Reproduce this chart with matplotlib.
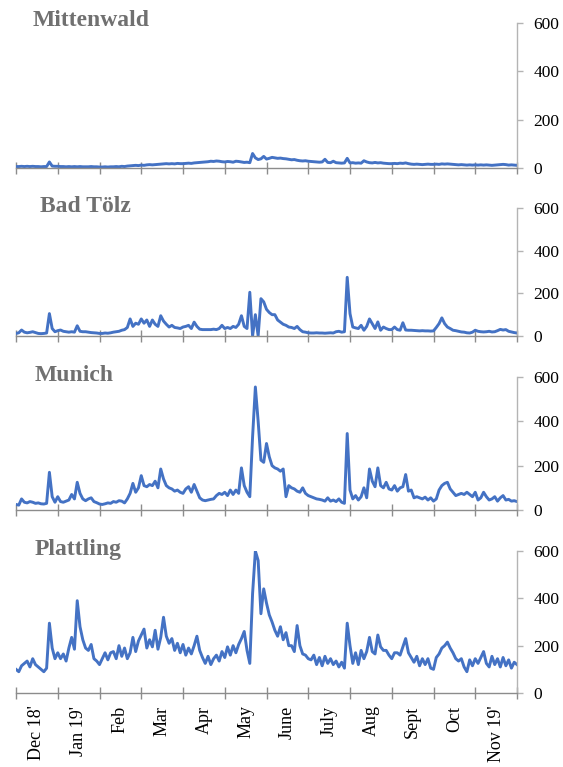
import numpy as np
import matplotlib
matplotlib.use("Agg")
import matplotlib.pyplot as plt

# months shown on the category axis (one tick interval per month)
months = ["Dec 18'", "Jan 19'", "Feb", "Mar", "Apr", "May", "June",
          "July", "Aug", "Sept", "Oct", "Nov 19'"]
stations = ["Mittenwald", "Bad Tölz", "Munich", "Plattling"]

# values read every ~2 days (15 samples per month), 181 samples
mittenwald = [
    6, 6, 7, 6, 7, 6, 7, 6, 6, 5, 6, 6, 25, 8, 7,
    7, 6, 6, 5, 6, 5, 6, 5, 6, 5, 5, 5, 6, 5, 5,
    4, 4, 5, 4, 5, 5, 6, 5, 7, 6, 8, 9, 10, 11, 10,
    12, 11, 13, 14, 13, 14, 15, 16, 17, 18, 17, 18, 17, 19, 18,
    18, 19, 20, 19, 21, 22, 23, 24, 25, 26, 28, 27, 29, 28, 26,
    25, 27, 26, 24, 28, 27, 25, 23, 24, 22, 60, 42, 35, 38, 48,
    37, 40, 44, 42, 40, 41, 39, 38, 36, 34, 35, 32, 30, 29, 30,
    28, 27, 26, 25, 24, 25, 36, 23, 22, 28, 22, 21, 20, 21, 40,
    21, 22, 20, 21, 20, 30, 25, 22, 21, 23, 21, 22, 20, 19, 18,
    18, 19, 18, 20, 19, 21, 18, 16, 15, 16, 15, 14, 15, 16, 15,
    15, 16, 15, 17, 16, 17, 16, 15, 14, 13, 14, 13, 12, 13, 12,
    13, 12, 13, 12, 13, 12, 11, 12, 13, 14, 15, 14, 12, 13, 12, 11,
]
bad_toelz = [
    12, 15, 28, 18, 15, 17, 20, 16, 12, 11, 12, 14, 105, 35, 20,
    25, 28, 22, 20, 18, 20, 18, 48, 22, 20, 20, 18, 16, 15, 14,
    12, 12, 14, 13, 15, 18, 20, 22, 27, 30, 40, 80, 45, 60, 55,
    80, 60, 75, 45, 75, 55, 45, 95, 70, 55, 42, 50, 40, 38, 35,
    42, 45, 50, 35, 65, 45, 32, 30, 30, 30, 30, 32, 30, 35, 50,
    35, 40, 35, 45, 40, 55, 95, 45, 35, 205, 0, 100, 0, 175, 160,
    125, 110, 100, 100, 75, 65, 55, 50, 42, 40, 35, 45, 30, 20, 18,
    15, 14, 14, 15, 14, 14, 13, 14, 15, 14, 20, 22, 18, 20, 275,
    105, 42, 38, 35, 50, 27, 45, 80, 58, 35, 66, 27, 42, 35, 30,
    30, 42, 30, 27, 62, 28, 27, 27, 26, 25, 24, 25, 24, 24, 23,
    24, 40, 58, 85, 58, 42, 35, 27, 25, 22, 19, 18, 15, 14, 18,
    27, 22, 20, 19, 20, 22, 19, 20, 25, 31, 28, 30, 22, 19, 16, 14,
]
munich = [
    25, 22, 50, 35, 32, 38, 35, 30, 32, 28, 27, 30, 170, 60, 35,
    60, 38, 35, 40, 45, 70, 50, 125, 75, 50, 42, 50, 55, 38, 33,
    27, 25, 28, 32, 30, 38, 35, 42, 40, 32, 50, 75, 120, 80, 100,
    155, 110, 105, 115, 110, 130, 100, 185, 140, 110, 100, 95, 85, 90, 80,
    75, 95, 105, 80, 115, 85, 55, 45, 42, 45, 48, 50, 65, 75, 70,
    80, 65, 90, 70, 90, 75, 190, 110, 80, 60, 330, 555, 400, 225, 215,
    300, 240, 200, 190, 185, 175, 185, 60, 110, 100, 95, 85, 80, 100, 75,
    65, 60, 55, 50, 48, 45, 40, 55, 40, 45, 38, 50, 35, 30, 345,
    90, 50, 65, 45, 60, 100, 55, 185, 130, 105, 190, 110, 100, 125, 95,
    90, 110, 85, 100, 105, 160, 85, 90, 55, 60, 55, 50, 58, 45, 55,
    40, 50, 90, 110, 120, 125, 95, 80, 65, 70, 75, 70, 80, 70, 60,
    80, 45, 55, 80, 60, 45, 50, 60, 40, 55, 65, 45, 48, 40, 42, 38,
]
plattling = [
    100, 90, 115, 125, 135, 110, 145, 120, 110, 100, 90, 105, 295, 190, 145,
    170, 145, 165, 135, 190, 235, 185, 390, 280, 225, 190, 180, 205, 145, 135,
    120, 145, 170, 140, 170, 175, 145, 200, 155, 190, 145, 170, 235, 175, 220,
    245, 270, 190, 225, 195, 265, 185, 235, 320, 240, 210, 230, 180, 210, 170,
    205, 160, 190, 165, 200, 240, 180, 150, 125, 155, 120, 145, 160, 135, 175,
    150, 195, 160, 200, 170, 205, 230, 260, 180, 125, 420, 600, 560, 335, 440,
    380, 330, 300, 265, 240, 280, 225, 255, 200, 200, 175, 285, 200, 165, 160,
    145, 140, 160, 120, 150, 115, 155, 125, 145, 120, 135, 110, 130, 105, 295,
    200, 125, 170, 120, 180, 145, 175, 235, 175, 165, 245, 195, 180, 180, 160,
    145, 170, 170, 160, 195, 230, 170, 150, 130, 155, 115, 145, 120, 145, 105,
    100, 150, 165, 190, 200, 215, 190, 170, 145, 135, 145, 110, 90, 140, 115,
    145, 125, 150, 175, 125, 110, 155, 120, 145, 110, 150, 115, 140, 105, 130, 120,
]
series = [mittenwald, bad_toelz, munich, plattling]

# panel boxes in figure pixels: (top, bottom), title left edge
panel_px = [(23, 168), (208, 336), (377, 510), (551, 693)]
title_x = [33, 40, 35, 35]

W, H = 563, 767
fig = plt.figure(figsize=(W / 100, H / 100), dpi=100)
serif = ["Liberation Serif", "DejaVu Serif"]
line_color = "#4472C4"

for k, (name, vals) in enumerate(zip(stations, series)):
    top, bot = panel_px[k]
    ax = fig.add_axes([16 / W, 1 - bot / H, 501 / W, (bot - top) / H])
    x = np.arange(len(vals)) / 15.0
    ax.plot(x, vals, color=line_color, lw=2.1, solid_joinstyle="round")
    ax.set_xlim(0, 12)
    ax.set_ylim(0, 600)

    for s in ["top", "left"]:
        ax.spines[s].set_visible(False)
    ax.spines["right"].set_color("#b4b4b4")
    ax.spines["bottom"].set_color("#8c8c8c")
    ax.spines["right"].set_linewidth(1.0)
    ax.spines["bottom"].set_linewidth(1.0)

    ax.yaxis.tick_right()
    ax.set_yticks([0, 200, 400, 600])
    ax.tick_params(axis="y", direction="out", length=4, width=1,
                   color="#b4b4b4", pad=8, labelsize=12.5)
    for t in ax.get_yticklabels():
        t.set_family(serif)

    ax.set_xticks(range(13))
    ax.tick_params(axis="x", which="major", direction="inout", length=8,
                   width=1, color="#8c8c8c", labelbottom=False)
    if k == len(stations) - 1:
        ax.set_xticks(np.arange(12) + 0.5, minor=True)
        ax.set_xticklabels(months, minor=True, rotation=90, va="top",
                           ha="center", family=serif, fontsize=13)
        ax.tick_params(axis="x", which="minor", length=0, pad=9)

    fig.text(title_x[k] / W, 1 - (top - 2) / H, name, family=serif,
             fontsize=17, fontweight="bold", color="#707070",
             va="center", ha="left")

fig.savefig("out.png", dpi=100)
